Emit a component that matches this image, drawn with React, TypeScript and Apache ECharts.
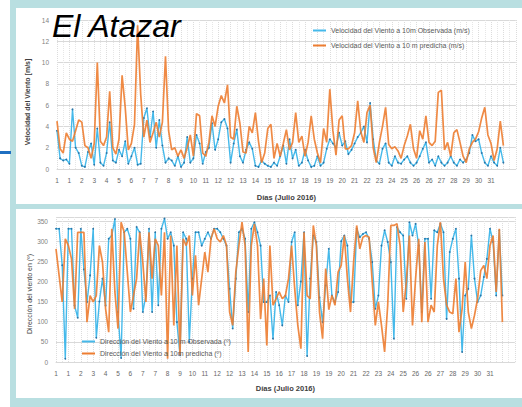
import { useEffect, useRef } from "react";
import * as echarts from "echarts";

const dayLabels = ["1","1","2","3","4","5","6","7","7","8","9","10","11","12","12","13","14","15","16","17","18","19","19","20","21","22","23","24","25","26","26","27","28","29","30","31"];
const samplesPerLabel = 4;

const speedObserved = [
  3.6, 1.0, 0.8, 0.9, 0.5, 5.6, 2.0, 1.5, 0.3, 0.2,
  1.6, 2.4, 0.4, 3.8, 0.6, 0.3, 1.5, 4.4, 0.8, 0.6,
  1.8, 1.2, 2.6, 0.5, 1.2, 2.0, 0.4, 0.5, 4.8, 5.7,
  3.0, 5.4, 2.0, 4.6, 2.2, 0.6, 1.0, 0.8, 0.3, 1.2,
  0.2, 0.6, 3.0, 0.6, 1.0, 3.2, 2.4, 0.5, 1.6, 2.0,
  4.3, 1.8, 2.8, 4.4, 4.7, 3.8, 0.6, 2.4, 3.7, 1.2,
  0.6, 1.8, 2.5, 1.9, 0.3, 0.2, 0.8, 0.5, 0.3, 0.2,
  0.6, 0.3, 1.2, 2.2, 0.5, 2.8, 1.0, 1.8, 0.3, 0.6,
  1.8, 0.8, 0.2, 0.3, 1.2, 0.3, 0.6, 1.9, 2.8, 2.4,
  2.0, 3.4, 2.2, 2.6, 1.4, 1.8, 2.4, 3.0, 3.4, 4.0,
  2.5, 6.2, 2.8, 0.8, 0.5, 1.9, 2.4, 0.6, 0.3, 1.2,
  0.6, 0.5, 0.9, 1.2, 0.6, 0.3, 0.6, 1.2, 1.9, 2.5,
  0.6, 0.9, 0.3, 1.2, 0.6, 0.3, 0.6, 1.2, 0.6, 0.3,
  0.9, 0.6, 0.9, 1.5, 3.2, 2.6, 2.8, 1.5, 0.6, 0.3,
  1.2, 0.6, 0.3, 2.0, 0.6,
];

const speedPredicted = [
  4.5, 1.9, 1.5, 3.4, 2.8, 2.6, 3.6, 4.6, 4.4, 2.2,
  2.0, 1.0, 2.4, 10.0, 2.6, 2.2, 3.0, 7.3, 2.0, 1.4,
  2.8, 8.8, 5.8, 1.8, 2.4, 4.2, 13.5, 7.0, 3.0, 4.6,
  2.5, 3.4, 4.4, 3.0, 4.4, 10.6, 3.6, 1.8, 2.0, 1.2,
  1.8, 1.0, 2.0, 3.2, 1.2, 5.2, 5.0, 1.5, 1.2, 2.5,
  5.0, 4.0, 5.9, 6.9, 6.2, 7.9, 3.0, 2.8, 5.9, 4.3,
  1.6, 1.5, 4.0, 3.4, 5.3, 2.6, 0.6, 1.5, 3.8, 4.2,
  1.0, 2.4, 1.2, 2.4, 3.7, 1.8, 2.5, 5.3, 2.5, 3.1,
  1.2, 2.5, 5.0, 2.8, 1.5, 0.6, 3.8, 2.5, 7.5, 3.6,
  1.3, 4.6, 5.0, 1.9, 1.9, 2.2, 3.4, 6.4, 3.5, 2.5,
  5.3, 6.0, 2.0, 0.6, 2.5, 4.0, 5.8, 2.3, 1.9, 2.1,
  1.7, 1.0, 2.2, 3.1, 4.2, 1.9, 1.0, 3.6, 2.8, 5.0,
  2.5, 2.2, 2.6, 7.2, 7.4, 1.8, 2.5, 1.2, 3.4, 3.7,
  2.5, 1.2, 0.6, 1.9, 2.5, 2.8, 3.5, 4.8, 5.8, 3.2,
  2.4, 0.8, 1.9, 4.5, 2.2,
];

const dirObserved = [
  331, 331, 240, 8, 331, 331, 140, 110, 331, 230,
  149, 215, 331, 60, 150, 207, 140, 306, 314, 355,
  124, 10, 322, 331, 306, 132, 335, 322, 124, 165,
  331, 124, 322, 141, 331, 356, 306, 322, 289, 99,
  17, 322, 306, 50, 207, 322, 322, 289, 306, 322,
  306, 331, 331, 322, 306, 289, 182, 83, 207, 322,
  331, 306, 124, 331, 347, 322, 289, 149, 149, 165,
  58, 174, 141, 91, 165, 149, 298, 322, 141, 200,
  322, 15, 207, 314, 298, 160, 99, 190, 281, 165,
  149, 174, 300, 314, 289, 149, 149, 331, 310, 318,
  322, 306, 248, 132, 165, 289, 327, 298, 248, 58,
  335, 322, 314, 157, 347, 314, 343, 289, 124, 306,
  306, 157, 327, 322, 343, 322, 107, 273, 306, 331,
  207, 25, 165, 182, 314, 207, 149, 165, 211, 256,
  331, 298, 165, 327, 165,
];

const dirPredicted = [
  281, 215, 149, 306, 289, 256, 132, 322, 322, 322,
  99, 165, 149, 165, 289, 248, 132, 74, 331, 174,
  83, 347, 322, 223, 124, 165, 207, 322, 248, 149,
  322, 207, 306, 289, 165, 322, 8, 314, 91, 289,
  17, 306, 289, 314, 165, 265, 141, 207, 273, 223,
  306, 331, 306, 298, 314, 289, 124, 91, 223, 289,
  347, 289, 25, 289, 343, 289, 107, 207, 41, 289,
  141, 157, 174, 157, 165, 207, 289, 182, 91, 33,
  322, 165, 157, 339, 289, 124, 58, 232, 130, 165,
  141, 223, 240, 314, 207, 124, 248, 339, 281, 310,
  314, 310, 200, 91, 149, 91, 25, 141, 339, 339,
  343, 289, 124, 198, 314, 91, 207, 306, 99, 298,
  99, 141, 124, 289, 347, 207, 141, 124, 120, 207,
  74, 132, 248, 124, 83, 116, 157, 227, 240, 207,
  289, 314, 174, 331, 99,
];

const toPairs = (arr: number[]) => arr.map((v, i) => [i / samplesPerLabel, v]);

const BLUE = "#45b9ea";
const BLUE_DOT = "#2a74a6";
const ORANGE = "#ed7d31";
const FONT = "Liberation Sans";

function xAxisCfg(gridIndex: number, nameGap: number) {
  return {
    gridIndex,
    type: "value",
    min: 0,
    max: 37,
    interval: 1,
    name: "Días (Julio 2016)",
    nameLocation: "middle",
    nameGap,
    nameTextStyle: { fontFamily: FONT, fontSize: 7.5, fontWeight: "bold", color: "#404040" },
    axisLine: { show: true, lineStyle: { color: "#d9d9d9", width: 1 } },
    axisTick: { show: false },
    axisLabel: {
      fontFamily: FONT,
      fontSize: 6.5,
      color: "#666666",
      margin: 8,
      formatter: (v: number) => {
        const i = Math.round(v);
        return Math.abs(v - i) < 1e-6 && i < dayLabels.length ? dayLabels[i] : "";
      },
    },
    splitLine: { show: true, lineStyle: { color: "#dcdcdc", type: "dotted", width: 1 } },
    minorTick: { show: false, splitNumber: 2 },
    minorSplitLine: { show: true, lineStyle: { color: "#e6e6e6", type: "dotted", width: 1 } },
  };
}

export default function App() {
  const ref = useRef<HTMLDivElement>(null);

  useEffect(() => {
    if (!ref.current) return;
    const chart = echarts.init(ref.current, undefined, { renderer: "svg" });
    chart.setOption({
      animation: false,
      textStyle: { fontFamily: FONT },
      grid: [
        { left: 57, top: 20, width: 458.8, height: 149 },
        { left: 56, top: 217, width: 458.8, height: 145 },
      ],
      xAxis: [xAxisCfg(0, 24), xAxisCfg(1, 22)],
      yAxis: [
        {
          gridIndex: 0,
          type: "value",
          min: 0,
          max: 14,
          interval: 2,
          axisLine: { show: false },
          axisTick: { show: false },
          axisLabel: { fontFamily: FONT, fontSize: 6.5, color: "#7f7f7f", margin: 8 },
          splitLine: { show: true, lineStyle: { color: "#d9d9d9", width: 1 } },
        },
        {
          gridIndex: 1,
          type: "value",
          min: 0,
          max: 360,
          interval: 50,
          axisLine: { show: false },
          axisTick: { show: false },
          axisLabel: {
            fontFamily: FONT,
            fontSize: 6.5,
            color: "#7f7f7f",
            margin: 8,
            formatter: (v: number) => (v > 350 ? "" : String(v)),
          },
          splitLine: { show: true, lineStyle: { color: "#d9d9d9", width: 1 } },
        },
      ],
      legend: [
        {
          orient: "vertical",
          left: 313,
          top: 27,
          padding: 0,
          itemGap: 8,
          itemWidth: 13,
          itemHeight: 2,
          icon: "rect",
          textStyle: { fontFamily: FONT, fontSize: 7, color: "#595959" },
          data: [
            { name: "Velocidad del Viento a 10m Observada (m/s)", itemStyle: { color: BLUE } },
            { name: "Velocidad del Viento a 10 m predicha (m/s)", itemStyle: { color: ORANGE } },
          ],
        },
        {
          orient: "vertical",
          left: 82,
          top: 338,
          padding: 0,
          itemGap: 5,
          itemWidth: 13,
          itemHeight: 2,
          icon: "rect",
          textStyle: { fontFamily: FONT, fontSize: 7, color: "#595959" },
          data: [
            { name: "Dirección del Viento a 10 m Observada (º)", itemStyle: { color: BLUE } },
            { name: "Dirección del Viento a 10m predicha (º)", itemStyle: { color: ORANGE } },
          ],
        },
      ],
      graphic: [
        {
          type: "text",
          left: 52,
          top: 10,
          style: {
            text: "El Atazar",
            fontFamily: FONT,
            fontStyle: "italic",
            fontSize: 32,
            fill: "#000000",
          },
          z: 10,
        },
        {
          type: "text",
          x: 27,
          y: 102,
          rotation: Math.PI / 2,
          style: {
            text: "Velocidad del Viento [m/s]",
            fontFamily: FONT,
            fontSize: 7,
            fontWeight: "bold",
            fill: "#404040",
            align: "center",
            verticalAlign: "middle",
          },
        },
        {
          type: "text",
          x: 29,
          y: 294,
          rotation: Math.PI / 2,
          style: {
            text: "Dirección del viento en (º)",
            fontFamily: FONT,
            fontSize: 7,
            fill: "#404040",
            align: "center",
            verticalAlign: "middle",
          },
        },
      ],
      series: [
        {
          name: "Velocidad del Viento a 10m Observada (m/s)",
          type: "line",
          xAxisIndex: 0,
          yAxisIndex: 0,
          data: toPairs(speedObserved),
          symbol: "circle",
          symbolSize: 1.8,
          showSymbol: true,
          itemStyle: { color: BLUE_DOT },
          lineStyle: { color: BLUE, width: 1.4 },
          z: 2,
        },
        {
          name: "Velocidad del Viento a 10 m predicha (m/s)",
          type: "line",
          xAxisIndex: 0,
          yAxisIndex: 0,
          data: toPairs(speedPredicted),
          showSymbol: false,
          itemStyle: { color: ORANGE },
          lineStyle: { color: ORANGE, width: 1.7, opacity: 0.9 },
          z: 3,
        },
        {
          name: "Dirección del Viento a 10 m Observada (º)",
          type: "line",
          xAxisIndex: 1,
          yAxisIndex: 1,
          data: toPairs(dirObserved),
          symbol: "circle",
          symbolSize: 1.8,
          showSymbol: true,
          itemStyle: { color: BLUE_DOT },
          lineStyle: { color: BLUE, width: 1.4 },
          z: 2,
        },
        {
          name: "Dirección del Viento a 10m predicha (º)",
          type: "line",
          xAxisIndex: 1,
          yAxisIndex: 1,
          data: toPairs(dirPredicted),
          showSymbol: false,
          itemStyle: { color: ORANGE },
          lineStyle: { color: ORANGE, width: 1.7, opacity: 0.9 },
          z: 3,
        },
      ],
    });
    return () => chart.dispose();
  }, []);

  return (
    <div style={{ position: "fixed", left: 0, top: 0, width: 522, height: 407, background: "#ffffff", overflow: "hidden" }}>
      <div style={{ position: "absolute", left: 10, top: 0, width: 512, height: 407, background: "#b9dfe1" }} />
      <div style={{ position: "absolute", left: 16, top: 8, width: 506, height: 196, background: "#ffffff" }} />
      <div style={{ position: "absolute", left: 16, top: 209, width: 506, height: 189, background: "#ffffff" }} />
      <div style={{ position: "absolute", left: 0, top: 151, width: 11, height: 3, background: "#1f6fc1" }} />
      <div ref={ref} style={{ position: "absolute", left: 0, top: 0, width: 522, height: 407 }} />
    </div>
  );
}
